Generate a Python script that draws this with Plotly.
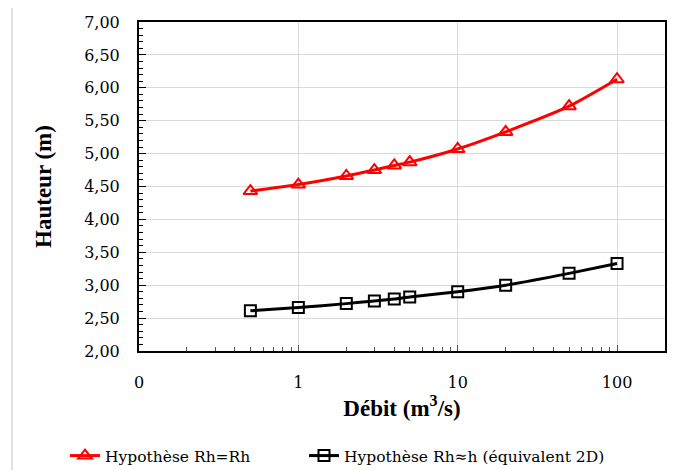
import plotly.graph_objects as go

debit = [0.5, 1, 2, 3, 4, 5, 10, 20, 50, 100]
hauteur_rh = [4.43, 4.53, 4.66, 4.75, 4.82, 4.87, 5.07, 5.33, 5.72, 6.13]
hauteur_2d = [2.61, 2.66, 2.72, 2.76, 2.79, 2.82, 2.90, 3.00, 3.18, 3.33]
x_tickvals = [0.1, 1, 10, 100]
x_ticktext = ["0", "1", "10", "100"]
name_rh = "Hypothèse Rh=Rh"
name_2d = "Hypothèse Rh≈h (équivalent 2D)"

FONT = "DejaVu Serif"
TFONT = "Liberation Serif"

fig = go.Figure()
fig.add_trace(go.Scatter(
    x=debit, y=hauteur_rh, name=name_rh, mode="lines+markers", legend="legend",
    line=dict(color="#ff0000", width=3, shape="spline", smoothing=0.6),
    marker=dict(symbol="triangle-up-open", size=12, color="#ff0000",
                line=dict(width=2, color="#ff0000")),
))
fig.add_trace(go.Scatter(
    x=debit, y=hauteur_2d, name=name_2d, mode="lines+markers", legend="legend2",
    line=dict(color="#000000", width=3, shape="spline", smoothing=0.6),
    marker=dict(symbol="square-open", size=11, color="#000000",
                line=dict(width=2, color="#000000")),
))

# page body has an 8px margin: the figure is drawn 8px right/down
O = 8
W, H = 678 - O, 470 - O
L, R, T, B = 139 - O, 13, 22 - O, 119
pw, ph = W - L - R, H - T - B

def px_x(p):  # p in screen px
    return (p - 139) / pw

def px_y(p):
    return (351 - p) / ph

leg_common = dict(orientation="h", xref="container", yref="container",
                  xanchor="left", y=1 - (456 - O) / H, yanchor="middle",
                  font=dict(family=FONT, size=15.5), itemwidth=30,
                  bgcolor="rgba(0,0,0,0)")

fig.update_layout(
    width=W, height=H,
    margin=dict(l=L, r=R, t=T, b=B, autoexpand=False),
    paper_bgcolor="white", plot_bgcolor="white",
    separators=", ",
    font=dict(family=FONT, size=16, color="#000000"),
    showlegend=True,
    legend=dict(x=57 / W, **leg_common),
    legend2=dict(x=296 / W, **leg_common),
    xaxis=dict(
        type="log", range=[-1, 2.301],
        tickvals=x_tickvals, ticktext=x_ticktext,
        tickfont=dict(family=FONT, size=16),
        showgrid=True, gridcolor="#d9d9d9", gridwidth=1,
        showline=True, linecolor="#000000", linewidth=2, mirror=True,
        ticks="inside", ticklen=6, tickcolor="#555555", tickwidth=1,
        minor=dict(ticks="inside", ticklen=4, tickcolor="#555555",
                   showgrid=False, dtick="D1"),
        ticklabelstandoff=16,
        title=dict(text="<b>Débit (m<sup>3</sup>/s)</b>",
                   font=dict(family=TFONT, size=23), standoff=2),
        zeroline=False,
    ),
    yaxis=dict(
        range=[2, 7], dtick=0.5, tickformat=".2f",
        tickfont=dict(family=FONT, size=16),
        showgrid=True, gridcolor="#d9d9d9", gridwidth=1,
        showline=True, linecolor="#000000", linewidth=2, mirror=True,
        ticks="inside", ticklen=7, tickcolor="#000000", tickwidth=1,
        minor=dict(ticks="inside", ticklen=4, dtick=0.1, tickcolor="#000000",
                   showgrid=False),
        ticklabelstandoff=14,
        title=dict(text="<b>Hauteur (m)</b>",
                   font=dict(family=TFONT, size=23), standoff=26),
        zeroline=False,
    ),
    shapes=[dict(type="rect", xref="paper", yref="paper",
                 x0=px_x(12), x1=px_x(700), y0=px_y(490), y1=px_y(6),
                 line=dict(color="#d9d9d9", width=1.5), layer="below")],
)

fig.write_html("out.html")
